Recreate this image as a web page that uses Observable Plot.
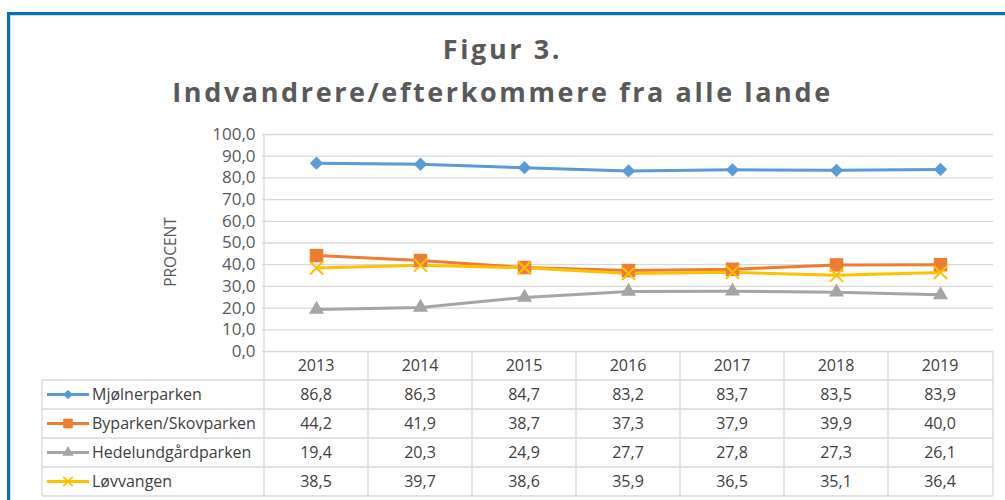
<!DOCTYPE html>
<html>
<head>
<meta charset="utf-8">
<script src="https://cdn.jsdelivr.net/npm/d3@7"></script>
<script src="https://cdn.jsdelivr.net/npm/@observablehq/plot@0.6"></script>
<style>
  html, body { margin: 0; padding: 0; background: #fff; }
  #wrap { position: relative; width: 1005px; height: 500px; overflow: hidden; font-family: "Open Sans", sans-serif; }
  #frame { position: absolute; left: 7px; top: 12px; width: 1100px; height: 600px; border-left: 3px solid #0070C0; border-top: 3px solid #0070C0; }
  #inner { position: absolute; left: 10px; top: 15px; width: 1100px; height: 600px; border-left: 1px solid #d9d9d9; border-top: 1px solid #d9d9d9; }
  .title { position: absolute; left: 0; width: 1005px; text-align: center; font-weight: 700; color: #595959; font-size: 27px; letter-spacing: 2.6px; line-height: 1; }
  #t1 { top: 35px; }
  #t2 { top: 78px; }
  #chart { position: absolute; left: 0; top: 0; }
</style>
</head>
<body>
<div id="wrap">
  <div id="frame"></div>
  <div id="inner"></div>
  <div class="title" id="t1">Figur 3.</div>
  <div class="title" id="t2">Indvandrere/efterkommere fra alle lande</div>
  <div id="chart"></div>
</div>
<script>
const years = ["2013", "2014", "2015", "2016", "2017", "2018", "2019"];
const seriesNames = ["Mjølnerparken", "Byparken/Skovparken", "Hedelundgårdparken", "Løvvangen"];
const mjolnerparken = [86.8, 86.3, 84.7, 83.2, 83.7, 83.5, 83.9];
const byparken = [44.2, 41.9, 38.7, 37.3, 37.9, 39.9, 40.0];
const hedelund = [19.4, 20.3, 24.9, 27.7, 27.8, 27.3, 26.1];
const lovvangen = [38.5, 39.7, 38.6, 35.9, 36.5, 35.1, 36.4];
const colors = ["#5B9BD5", "#ED7D31", "#A5A5A5", "#FFC000"];
const yTicks = [0, 10, 20, 30, 40, 50, 60, 70, 80, 90, 100];

const seriesValues = [mjolnerparken, byparken, hedelund, lovvangen];
const data = seriesNames.flatMap((s, i) => years.map((y, j) => ({series: s, year: y, value: seriesValues[i][j]})));
const fmt = v => v.toFixed(1).replace(".", ",");
const textColor = "#595959";
const gridColor = "#d9d9d9";

function tableMark(index, scales, values, dims) {
  const x = scales.x;
  const bw = x.bandwidth ? x.bandwidth() : (x(years[1]) - x(years[0]));
  const plotLeft = dims.marginLeft;
  const right = dims.width - dims.marginRight;
  const top = dims.height - dims.marginBottom;
  const plotTop = dims.marginTop;
  const rowH = 29;
  const left = 42;
  const g = d3.create("svg:g").attr("font-family", "'Open Sans', sans-serif");
  for (let k = 1; k <= 5; k++) {
    g.append("line").attr("x1", left).attr("x2", right)
      .attr("y1", top + k * rowH).attr("y2", top + k * rowH)
      .attr("stroke", gridColor).attr("stroke-width", 1.3);
  }
  g.append("line").attr("x1", left).attr("x2", left).attr("y1", top + rowH).attr("y2", top + 5 * rowH)
    .attr("stroke", gridColor).attr("stroke-width", 1.3);
  years.forEach((yr, i) => {
    const xs = x(yr);
    g.append("line").attr("x1", xs).attr("x2", xs).attr("y1", i === 0 ? plotTop : top).attr("y2", top + 5 * rowH)
      .attr("stroke", gridColor).attr("stroke-width", 1.3);
  });
  g.append("line").attr("x1", right).attr("x2", right).attr("y1", top).attr("y2", top + 5 * rowH)
    .attr("stroke", gridColor).attr("stroke-width", 1.3);
  years.forEach(yr => {
    g.append("text").attr("x", x(yr) + bw / 2).attr("y", top + rowH / 2).attr("dy", "0.35em")
      .attr("text-anchor", "middle").attr("font-size", 16).attr("fill", "#404040").text(yr);
  });
  seriesNames.forEach((s, i) => {
    const cy = top + (i + 1.5) * rowH;
    g.append("line").attr("x1", 47).attr("x2", 89).attr("y1", cy).attr("y2", cy)
      .attr("stroke", colors[i]).attr("stroke-width", 3);
    const mx = 68;
    if (i === 0) g.append("path").attr("d", d3.symbol(d3.symbolDiamond2, 60)()).attr("transform", `translate(${mx},${cy})`).attr("fill", colors[i]);
    if (i === 1) g.append("path").attr("d", d3.symbol(d3.symbolSquare, 90)()).attr("transform", `translate(${mx},${cy})`).attr("fill", colors[i]);
    if (i === 2) g.append("path").attr("d", d3.symbol(d3.symbolTriangle, 55)()).attr("transform", `translate(${mx},${cy})`).attr("fill", colors[i]);
    if (i === 3) g.append("path").attr("d", d3.symbol(d3.symbolTimes, 60)()).attr("transform", `translate(${mx},${cy})`).attr("fill", "none").attr("stroke", colors[i]).attr("stroke-width", 1.8);
    g.append("text").attr("x", 92).attr("y", cy).attr("dy", "0.35em").attr("text-anchor", "start")
      .attr("font-size", 16).attr("fill", "#404040").text(s);
    years.forEach((yr, j) => {
      g.append("text").attr("x", x(yr) + bw / 2).attr("y", cy).attr("dy", "0.35em")
        .attr("text-anchor", "middle").attr("font-size", 16).attr("fill", "#404040").text(fmt(seriesValues[i][j]));
    });
  });
  g.append("text").attr("transform", `translate(171,252) rotate(-90)`).attr("dy", "0.35em")
    .attr("text-anchor", "middle").attr("font-size", 15.5).attr("fill", textColor).text("PROCENT");
  return g.node();
}

const chart = Plot.plot({
  width: 1005,
  height: 500,
  marginTop: 134,
  marginBottom: 149,
  marginLeft: 262,
  marginRight: 12,
  style: {background: "transparent", fontFamily: "'Open Sans', sans-serif"},
  x: {type: "band", domain: years, padding: 0, axis: null},
  y: {domain: [0, 100], axis: null},
  color: {domain: seriesNames, range: colors},
  marks: [
    Plot.gridY(yTicks, {stroke: gridColor, strokeOpacity: 1, strokeWidth: 1.3}),
    Plot.axisY(yTicks, {tickSize: 0, tickPadding: 7, tickFormat: fmt, fontSize: 17, fill: textColor, label: null}),
    tableMark,
    Plot.line(data, {x: "year", y: "value", z: "series", stroke: "series", strokeWidth: 3}),
    Plot.dot(data.filter(d => d.series === seriesNames[0]), {x: "year", y: "value", symbol: "diamond2", r: 6, fill: colors[0]}),
    Plot.dot(data.filter(d => d.series === seriesNames[1]), {x: "year", y: "value", symbol: "square", r: 7.6, fill: colors[1]}),
    Plot.dot(data.filter(d => d.series === seriesNames[2]), {x: "year", y: "value", symbol: "triangle", r: 5.6, fill: colors[2]}),
    Plot.dot(data.filter(d => d.series === seriesNames[3]), {x: "year", y: "value", symbol: "times", r: 6, stroke: colors[3], strokeWidth: 2, fill: "none"})
  ]
});
document.getElementById("chart").appendChild(chart);
</script>
</body>
</html>
